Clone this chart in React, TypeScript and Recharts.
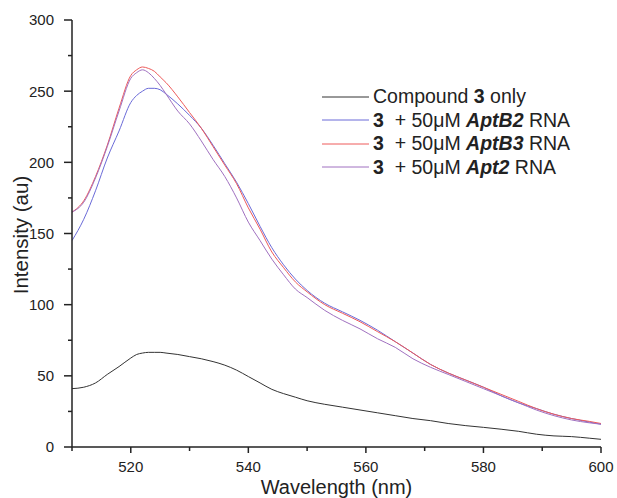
import { LineChart, Line, XAxis, YAxis, Legend } from "recharts"

const wavelengths = [
  510, 512, 514, 516, 518, 520, 521, 522, 523, 524, 525, 526, 528, 530, 532, 534, 536, 538, 540, 542, 544,
  546, 548, 550, 553, 556, 559, 562, 565, 568, 571, 574, 577, 580, 583, 586, 589, 592, 595, 598, 600,
]
const compoundOnly = [
  41, 42, 45, 51, 56.5, 62.5, 65, 66, 66.5, 66.5, 66.5, 66, 65, 63.5, 62, 60, 57.5, 54, 49.5, 45, 40.5,
  37.5, 35, 32.5, 30, 28, 26, 24, 22, 20, 18.5, 16.5, 15, 13.8, 12.5, 11, 9, 7.8, 7.3, 6.2, 5.4,
]
const aptB2 = [
  145, 160, 180, 203, 222, 242, 247, 250, 252, 252, 251, 248, 241, 233, 224, 212, 199, 186, 171, 155, 140,
  128, 118, 110, 101, 95, 89, 82, 74, 66, 58, 52, 47, 42, 36, 31, 27, 23, 20, 17.5, 16,
]
const aptB3 = [
  165, 173, 190, 212, 238, 261, 265, 267, 266, 264, 260, 256, 246, 235, 224, 211, 198, 185, 168, 153, 137,
  126, 116, 109, 100, 94, 88, 81, 74, 66, 58, 52, 47, 42, 37, 32, 27, 23, 20, 18, 16.5,
]
const apt2 = [
  165, 172, 189, 211, 236, 259, 263, 265, 263, 259, 254, 248, 236, 227, 215, 202, 190, 175, 158, 145, 132,
  121, 111, 105, 96, 89, 83, 76, 70, 62, 56, 51, 46, 41, 36, 31, 26, 22, 19, 17, 16,
]

const xTicks = [510, 520, 530, 540, 550, 560, 570, 580, 590, 600]
const yTicks = [0, 25, 50, 75, 100, 125, 150, 175, 200, 225, 250, 275, 300]

const data = wavelengths.map((w, i) => ({
  w,
  compoundOnly: compoundOnly[i],
  aptB2: aptB2[i],
  aptB3: aptB3[i],
  apt2: apt2[i],
}))

const font = "'Liberation Sans', Arial, sans-serif"
const ink = "#222"

function XTick({ x, y, payload }: any) {
  const major = payload.value % 20 === 0
  return (
    <g>
      <line x1={x} x2={x} y1={y} y2={y + (major ? 6 : 4)} stroke={ink} strokeWidth={1.5} />
      {major && (
        <text x={x} y={y + 14} dy="0.71em" textAnchor="middle" fontSize={15} fill={ink} fontFamily={font}>
          {payload.value}
        </text>
      )}
    </g>
  )
}

function YTick({ x, y, payload }: any) {
  const major = payload.value % 50 === 0
  return (
    <g>
      <line x1={x} x2={x - (major ? 8 : 4)} y1={y} y2={y} stroke={ink} strokeWidth={1.5} />
      {major && (
        <text x={x - 18} y={y} dy="0.36em" textAnchor="end" fontSize={15} fill={ink} fontFamily={font}>
          {payload.value}
        </text>
      )}
    </g>
  )
}

const legendRows = [
  { color: "#333333", label: <>Compound <b>3</b> only</> },
  { color: "#6a6ad8", label: <><b>3</b>&nbsp; + 50μM <b><i>AptB2</i></b> RNA</> },
  { color: "#ee5a5a", label: <><b>3</b>&nbsp; + 50μM <b><i>AptB3</i></b> RNA</> },
  { color: "#a070c0", label: <><b>3</b>&nbsp; + 50μM <b><i>Apt2</i></b> RNA</> },
]

function LegendBox() {
  return (
    <div style={{ fontFamily: font, fontSize: 19.5, color: ink }}>
      {legendRows.map((r, i) => (
        <div key={i} style={{ display: "flex", alignItems: "center", height: 23.5, whiteSpace: "nowrap" }}>
          <svg width={51} height={4}>
            <line x1={0} x2={47} y1={2} y2={2} stroke={r.color} strokeWidth={1} />
          </svg>
          <span>{r.label}</span>
        </div>
      ))}
    </div>
  )
}

export default function App() {
  return (
    <div style={{ position: "absolute", left: 0, top: 0, background: "#fff" }}>
      <LineChart width={617} height={498} data={data} margin={{ top: 20, right: 16, left: 0, bottom: 0 }}>
        <XAxis
          dataKey="w"
          type="number"
          domain={[510, 600]}
          ticks={xTicks}
          allowDataOverflow
          height={51}
          tickSize={0}
          tickMargin={0}
          tickLine={false}
          tick={<XTick />}
          stroke={ink}
          strokeWidth={1.5}
          label={{ value: "Wavelength (nm)", position: "insideBottom", offset: 4, fontSize: 20, fill: ink, fontFamily: font }}
        />
        <YAxis
          type="number"
          domain={[0, 300]}
          ticks={yTicks}
          width={72}
          tickSize={0}
          tickMargin={0}
          tickLine={false}
          tick={<YTick />}
          stroke={ink}
          strokeWidth={1.5}
          label={{
            content: () => (
              <text
                x={21}
                y={235}
                transform="rotate(-90 21 235)"
                textAnchor="middle"
                dy="0.36em"
                fontSize={20.5}
                fill={ink}
                fontFamily={font}
              >
                Intensity (au)
              </text>
            ),
          }}
        />
        <Legend
          layout="horizontal"
          verticalAlign="middle"
          align="center"
          content={() => <LegendBox />}
          wrapperStyle={{ left: 322, top: 85, width: 290 }}
        />
        <Line dataKey="compoundOnly" stroke="#333333" strokeWidth={1} dot={false} type="monotone" isAnimationActive={false} />
        <Line dataKey="aptB2" stroke="#6a6ad8" strokeWidth={1} dot={false} type="monotone" isAnimationActive={false} />
        <Line dataKey="aptB3" stroke="#ee5a5a" strokeWidth={1} dot={false} type="monotone" isAnimationActive={false} />
        <Line dataKey="apt2" stroke="#a070c0" strokeWidth={1} dot={false} type="monotone" isAnimationActive={false} />
      </LineChart>
    </div>
  )
}
